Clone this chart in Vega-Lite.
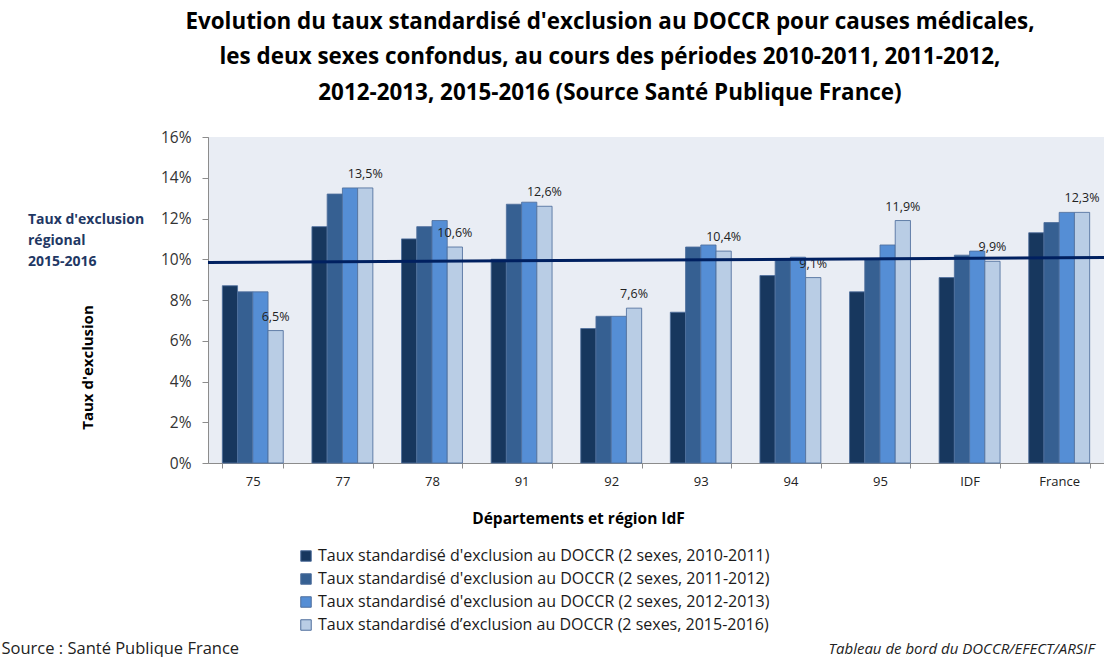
{
  "$schema": "https://vega.github.io/schema/vega-lite/v6.json",
  "width": 896,
  "height": 326,
  "autosize": {"type": "none"},
  "padding": {"left": 208, "top": 137, "right": 0, "bottom": 194},
  "background": "white",
  "title": {
    "text": ["Evolution du taux standardisé d'exclusion au DOCCR pour causes médicales,", "les deux sexes confondus, au cours des périodes 2010-2011, 2011-2012,", "2012-2013, 2015-2016 (Source Santé Publique France)"],
    "font": "Open Sans", "fontSize": 22.4, "fontWeight": "bold", "color": "#000000",
    "anchor": "middle", "frame": "group", "dx": -46, "offset": 26, "lineHeight": 35.5
  },
  "config": {
    "locale": {"number": {"decimal": ",", "thousands": " ", "grouping": [3], "currency": ["", " €"]}},
    "view": {"fill": "#E9EDF4", "stroke": null},
    "font": "Open Sans"
  },
  "layer": [
    {
      "data": {"values": [
        {"dep": "75", "serie": "Taux standardisé d'exclusion au DOCCR (2 sexes, 2010-2011)", "taux": 0.087},
        {"dep": "75", "serie": "Taux standardisé d'exclusion au DOCCR (2 sexes, 2011-2012)", "taux": 0.084},
        {"dep": "75", "serie": "Taux standardisé d'exclusion au DOCCR (2 sexes, 2012-2013)", "taux": 0.084},
        {"dep": "75", "serie": "Taux standardisé d’exclusion au DOCCR (2 sexes, 2015-2016)", "taux": 0.065},
        {"dep": "77", "serie": "Taux standardisé d'exclusion au DOCCR (2 sexes, 2010-2011)", "taux": 0.116},
        {"dep": "77", "serie": "Taux standardisé d'exclusion au DOCCR (2 sexes, 2011-2012)", "taux": 0.132},
        {"dep": "77", "serie": "Taux standardisé d'exclusion au DOCCR (2 sexes, 2012-2013)", "taux": 0.135},
        {"dep": "77", "serie": "Taux standardisé d’exclusion au DOCCR (2 sexes, 2015-2016)", "taux": 0.135},
        {"dep": "78", "serie": "Taux standardisé d'exclusion au DOCCR (2 sexes, 2010-2011)", "taux": 0.110},
        {"dep": "78", "serie": "Taux standardisé d'exclusion au DOCCR (2 sexes, 2011-2012)", "taux": 0.116},
        {"dep": "78", "serie": "Taux standardisé d'exclusion au DOCCR (2 sexes, 2012-2013)", "taux": 0.119},
        {"dep": "78", "serie": "Taux standardisé d’exclusion au DOCCR (2 sexes, 2015-2016)", "taux": 0.106},
        {"dep": "91", "serie": "Taux standardisé d'exclusion au DOCCR (2 sexes, 2010-2011)", "taux": 0.100},
        {"dep": "91", "serie": "Taux standardisé d'exclusion au DOCCR (2 sexes, 2011-2012)", "taux": 0.127},
        {"dep": "91", "serie": "Taux standardisé d'exclusion au DOCCR (2 sexes, 2012-2013)", "taux": 0.128},
        {"dep": "91", "serie": "Taux standardisé d’exclusion au DOCCR (2 sexes, 2015-2016)", "taux": 0.126},
        {"dep": "92", "serie": "Taux standardisé d'exclusion au DOCCR (2 sexes, 2010-2011)", "taux": 0.066},
        {"dep": "92", "serie": "Taux standardisé d'exclusion au DOCCR (2 sexes, 2011-2012)", "taux": 0.072},
        {"dep": "92", "serie": "Taux standardisé d'exclusion au DOCCR (2 sexes, 2012-2013)", "taux": 0.072},
        {"dep": "92", "serie": "Taux standardisé d’exclusion au DOCCR (2 sexes, 2015-2016)", "taux": 0.076},
        {"dep": "93", "serie": "Taux standardisé d'exclusion au DOCCR (2 sexes, 2010-2011)", "taux": 0.074},
        {"dep": "93", "serie": "Taux standardisé d'exclusion au DOCCR (2 sexes, 2011-2012)", "taux": 0.106},
        {"dep": "93", "serie": "Taux standardisé d'exclusion au DOCCR (2 sexes, 2012-2013)", "taux": 0.107},
        {"dep": "93", "serie": "Taux standardisé d’exclusion au DOCCR (2 sexes, 2015-2016)", "taux": 0.104},
        {"dep": "94", "serie": "Taux standardisé d'exclusion au DOCCR (2 sexes, 2010-2011)", "taux": 0.092},
        {"dep": "94", "serie": "Taux standardisé d'exclusion au DOCCR (2 sexes, 2011-2012)", "taux": 0.100},
        {"dep": "94", "serie": "Taux standardisé d'exclusion au DOCCR (2 sexes, 2012-2013)", "taux": 0.101},
        {"dep": "94", "serie": "Taux standardisé d’exclusion au DOCCR (2 sexes, 2015-2016)", "taux": 0.091},
        {"dep": "95", "serie": "Taux standardisé d'exclusion au DOCCR (2 sexes, 2010-2011)", "taux": 0.084},
        {"dep": "95", "serie": "Taux standardisé d'exclusion au DOCCR (2 sexes, 2011-2012)", "taux": 0.100},
        {"dep": "95", "serie": "Taux standardisé d'exclusion au DOCCR (2 sexes, 2012-2013)", "taux": 0.107},
        {"dep": "95", "serie": "Taux standardisé d’exclusion au DOCCR (2 sexes, 2015-2016)", "taux": 0.119},
        {"dep": "IDF", "serie": "Taux standardisé d'exclusion au DOCCR (2 sexes, 2010-2011)", "taux": 0.091},
        {"dep": "IDF", "serie": "Taux standardisé d'exclusion au DOCCR (2 sexes, 2011-2012)", "taux": 0.102},
        {"dep": "IDF", "serie": "Taux standardisé d'exclusion au DOCCR (2 sexes, 2012-2013)", "taux": 0.104},
        {"dep": "IDF", "serie": "Taux standardisé d’exclusion au DOCCR (2 sexes, 2015-2016)", "taux": 0.099},
        {"dep": "France", "serie": "Taux standardisé d'exclusion au DOCCR (2 sexes, 2010-2011)", "taux": 0.113},
        {"dep": "France", "serie": "Taux standardisé d'exclusion au DOCCR (2 sexes, 2011-2012)", "taux": 0.118},
        {"dep": "France", "serie": "Taux standardisé d'exclusion au DOCCR (2 sexes, 2012-2013)", "taux": 0.123},
        {"dep": "France", "serie": "Taux standardisé d’exclusion au DOCCR (2 sexes, 2015-2016)", "taux": 0.123}
      ]},
      "layer": [
        {
          "mark": {"type": "bar", "stroke": "#4F6F9C", "strokeWidth": 1, "strokeOpacity": 0.85},
          "encoding": {
            "x": {"field": "dep", "type": "nominal", "sort": ["75", "77", "78", "91", "92", "93", "94", "95", "IDF", "France"],
              "scale": {"paddingInner": 0.32, "paddingOuter": 0.16},
              "axis": {"title": "Départements et région IdF", "labelAngle": 0, "labelFontSize": 13, "labelColor": "#222222", "labelPadding": 7,
                "tickBand": "extent", "tickSize": 5, "tickColor": "#8C8C8C", "domainColor": "#8C8C8C",
                "titleFontSize": 15.5, "titleFontWeight": "bold", "titleColor": "#000000", "titleX": 370, "titleY": 55, "titleBaseline": "middle", "titleAnchor": null, "titleAlign": "center"}},
            "xOffset": {"field": "serie", "type": "nominal",
              "scale": {"domain": ["Taux standardisé d'exclusion au DOCCR (2 sexes, 2010-2011)", "Taux standardisé d'exclusion au DOCCR (2 sexes, 2011-2012)", "Taux standardisé d'exclusion au DOCCR (2 sexes, 2012-2013)", "Taux standardisé d’exclusion au DOCCR (2 sexes, 2015-2016)"], "paddingInner": 0, "paddingOuter": 0}},
            "y": {"field": "taux", "type": "quantitative", "scale": {"domain": [0, 0.16], "nice": false},
              "axis": {"title": "Taux d'exclusion", "format": ".0%", "values": [0, 0.02, 0.04, 0.06, 0.08, 0.1, 0.12, 0.14, 0.16], "grid": false,
                "labelFontSize": 15.5, "labelColor": "#333333", "labelPadding": 11, "tickSize": 6, "tickColor": "#8C8C8C", "domainColor": "#8C8C8C",
                "titleFontSize": 15, "titleFontWeight": "bold", "titleColor": "#000000", "titleX": -121, "titleY": 230, "titleAngle": -90, "titleAlign": "center", "titleBaseline": "middle", "titleAnchor": null}},
            "color": {"field": "serie", "type": "nominal",
              "scale": {"domain": ["Taux standardisé d'exclusion au DOCCR (2 sexes, 2010-2011)", "Taux standardisé d'exclusion au DOCCR (2 sexes, 2011-2012)", "Taux standardisé d'exclusion au DOCCR (2 sexes, 2012-2013)", "Taux standardisé d’exclusion au DOCCR (2 sexes, 2015-2016)"],
                "range": ["#17375E", "#366092", "#558ED5", "#B9CDE5"]},
              "legend": {"orient": "none", "legendX": 90, "legendY": 411, "title": null, "labelFontSize": 16, "labelColor": "#1a1a1a",
                "symbolType": "square", "symbolSize": 110, "symbolStrokeColor": "#4F6F9C", "symbolStrokeWidth": 1, "rowPadding": 7, "labelLimit": 700, "labelOffset": 4}}
          }
        },
        {
          "transform": [{"filter": "datum.serie === 'Taux standardisé d’exclusion au DOCCR (2 sexes, 2015-2016)'"}],
          "mark": {"type": "text", "baseline": "bottom", "dy": -7, "fontSize": 12.5, "color": "#222222"},
          "encoding": {
            "x": {"field": "dep", "type": "nominal", "sort": ["75", "77", "78", "91", "92", "93", "94", "95", "IDF", "France"]},
            "xOffset": {"field": "serie", "type": "nominal",
              "scale": {"domain": ["Taux standardisé d'exclusion au DOCCR (2 sexes, 2010-2011)", "Taux standardisé d'exclusion au DOCCR (2 sexes, 2011-2012)", "Taux standardisé d'exclusion au DOCCR (2 sexes, 2012-2013)", "Taux standardisé d’exclusion au DOCCR (2 sexes, 2015-2016)"], "paddingInner": 0, "paddingOuter": 0}},
            "y": {"field": "taux", "type": "quantitative"},
            "text": {"field": "taux", "type": "quantitative", "format": ".1%"}
          }
        }
      ]
    },
    {
      "data": {"values": [{"p": 0, "v": 0.0984}, {"p": 1, "v": 0.1008}]},
      "layer": [
        {
          "mark": {"type": "line", "color": "#002060", "strokeWidth": 3},
          "encoding": {
            "x": {"field": "p", "type": "quantitative", "scale": {"domain": [0, 1], "nice": false, "zero": false},
              "axis": {"orient": "top", "labels": false, "ticks": false, "domain": false, "grid": false,
                "title": "Source : Santé Publique France", "titleFontSize": 16.5, "titleFontWeight": "normal", "titleColor": "#222222",
                "titleX": -207, "titleY": 511, "titleAlign": "left", "titleBaseline": "middle", "titleAngle": 0, "titleAnchor": null}},
            "y": {"field": "v", "type": "quantitative", "scale": {"domain": [0, 0.16], "nice": false},
              "axis": {"orient": "left", "labels": false, "ticks": true, "tickSize": 3, "tickColor": "#8C8C8C", "domain": false, "grid": false,
                "values": [0, 0.005, 0.01, 0.015, 0.02, 0.025, 0.03, 0.035, 0.04, 0.045, 0.05, 0.055, 0.06, 0.065, 0.07, 0.075, 0.08, 0.085, 0.09, 0.095, 0.1, 0.105, 0.11, 0.115, 0.12, 0.125, 0.13, 0.135, 0.14, 0.145, 0.15, 0.155, 0.16],
                "title": "Tableau de bord du DOCCR/EFECT/ARSIF", "titleFontSize": 15, "titleFontWeight": "normal", "titleFontStyle": "italic", "titleColor": "#222222",
                "titleX": 620, "titleY": 511, "titleAlign": "left", "titleBaseline": "middle", "titleAngle": 0, "titleAnchor": null}}
          }
        },
        {
          "transform": [{"filter": "datum.p === 0"}],
          "mark": {"type": "text", "text": ["Taux d'exclusion", "régional", "2015-2016"], "align": "left", "baseline": "bottom", "dx": -180, "dy": -36,
            "fontSize": 14, "fontWeight": "bold", "color": "#1F3864", "lineHeight": 21},
          "encoding": {
            "x": {"field": "p", "type": "quantitative"},
            "y": {"field": "v", "type": "quantitative"}
          }
        }
      ]
    }
  ],
  "resolve": {"scale": {"x": "independent", "y": "independent"}}
}
